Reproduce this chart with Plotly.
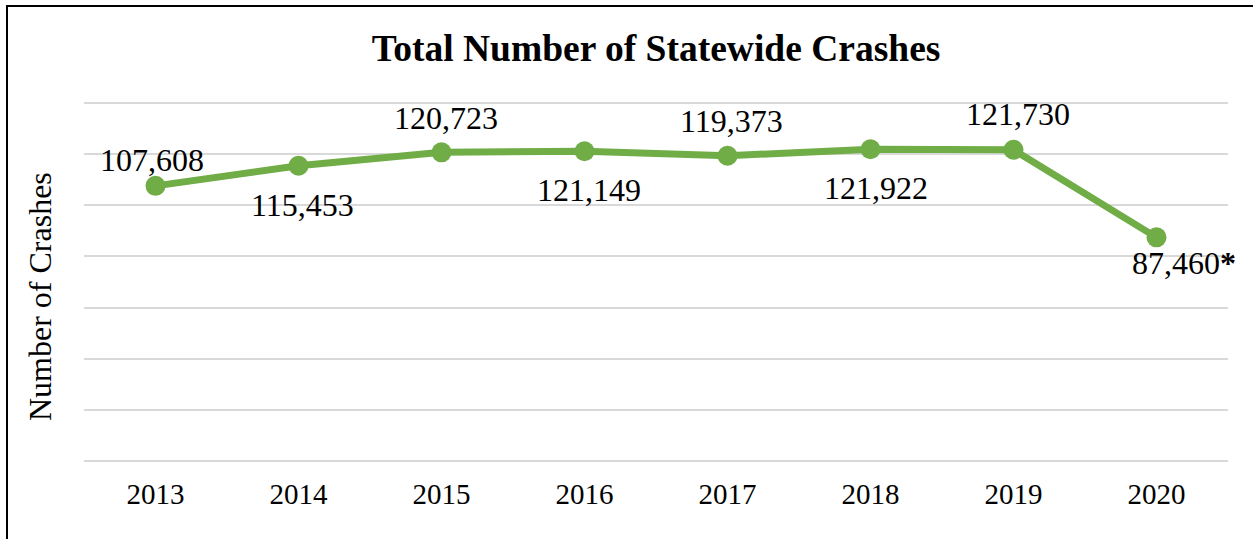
import plotly.graph_objects as go

# -----------------------------
# Data
# -----------------------------
years = ["2013", "2014", "2015", "2016", "2017", "2018", "2019", "2020"]
crashes = [107608, 115453, 120723, 121149, 119373, 121922, 121730, 87460]
labels = ["107,608", "115,453", "120,723", "121,149", "119,373", "121,922", "121,730",
          "87,460<b>*</b>"]

# label offsets in px (xshift, yshift), as placed in the original chart
label_dx = [-4, 4, 4, 4, 4, 5, 4, 27]
label_dy = [27, -38, 35, -38, 36, -38, 37, -25]

GREEN = "#70AD47"
GRID = "#D9D9D9"
FONT = "Times New Roman, Liberation Serif, serif"

W, H = 1253, 539
L, R, T, B = 84, 25, 102, 78
PW, PH = W - L - R, H - T - B

fig = go.Figure()
fig.add_trace(go.Scatter(
    x=years,
    y=crashes,
    mode="lines+markers",
    line=dict(color=GREEN, width=7),
    marker=dict(color=GREEN, size=20),
    hoverinfo="x+y",
    showlegend=False
))

# data labels (category index used as x so "2013" is not read as a number)
for i, (val, txt, dx, dy) in enumerate(zip(crashes, labels, label_dx, label_dy)):
    fig.add_annotation(
        x=i, y=val, text=txt, showarrow=False,
        xanchor="center", yanchor="middle",
        xshift=dx, yshift=dy - 1,
        font=dict(family=FONT, size=32, color="black")
    )

# y axis title
fig.add_annotation(
    xref="paper", yref="paper",
    x=(40 - L) / PW, y=(H - B - 297) / PH,
    text="Number of Crashes", textangle=-90, showarrow=False,
    xanchor="center", yanchor="middle",
    font=dict(family=FONT, size=32, color="black")
)

# outer frame of the chart (only top and left edges show in the crop)
fig.add_shape(
    type="rect", xref="paper", yref="paper",
    x0=(7 - L) / PW, x1=(W + 20 - L) / PW,
    y0=(H - B - (H + 20)) / PH, y1=(H - B - 6) / PH,
    line=dict(color="black", width=2), fillcolor="rgba(0,0,0,0)", layer="below"
)

fig.update_layout(
    width=W, height=H,
    margin=dict(l=L, r=R, t=T, b=B),
    paper_bgcolor="white",
    plot_bgcolor="white",
    title=dict(
        text="<b>Total Number of Statewide Crashes</b>",
        x=0.5, xanchor="center", xref="paper",
        y=1 - 48 / H, yanchor="middle", yref="container",
        font=dict(family=FONT, size=37.5, color="black")
    ),
    xaxis=dict(
        type="category",
        range=[-0.5, 7.5],
        showgrid=False,
        showline=False,
        zeroline=False,
        ticks="",
        ticklabelstandoff=13,
        tickfont=dict(family=FONT, size=29, color="black")
    ),
    yaxis=dict(
        range=[0, 140400],
        dtick=20000,
        showticklabels=False,
        showgrid=True,
        gridcolor=GRID,
        gridwidth=1.5,
        zeroline=True,
        zerolinecolor=GRID,
        zerolinewidth=1.5,
        showline=False,
        ticks=""
    )
)

fig.write_html("out.html", config={"displayModeBar": False},
               post_script="document.body.style.margin='0';")
